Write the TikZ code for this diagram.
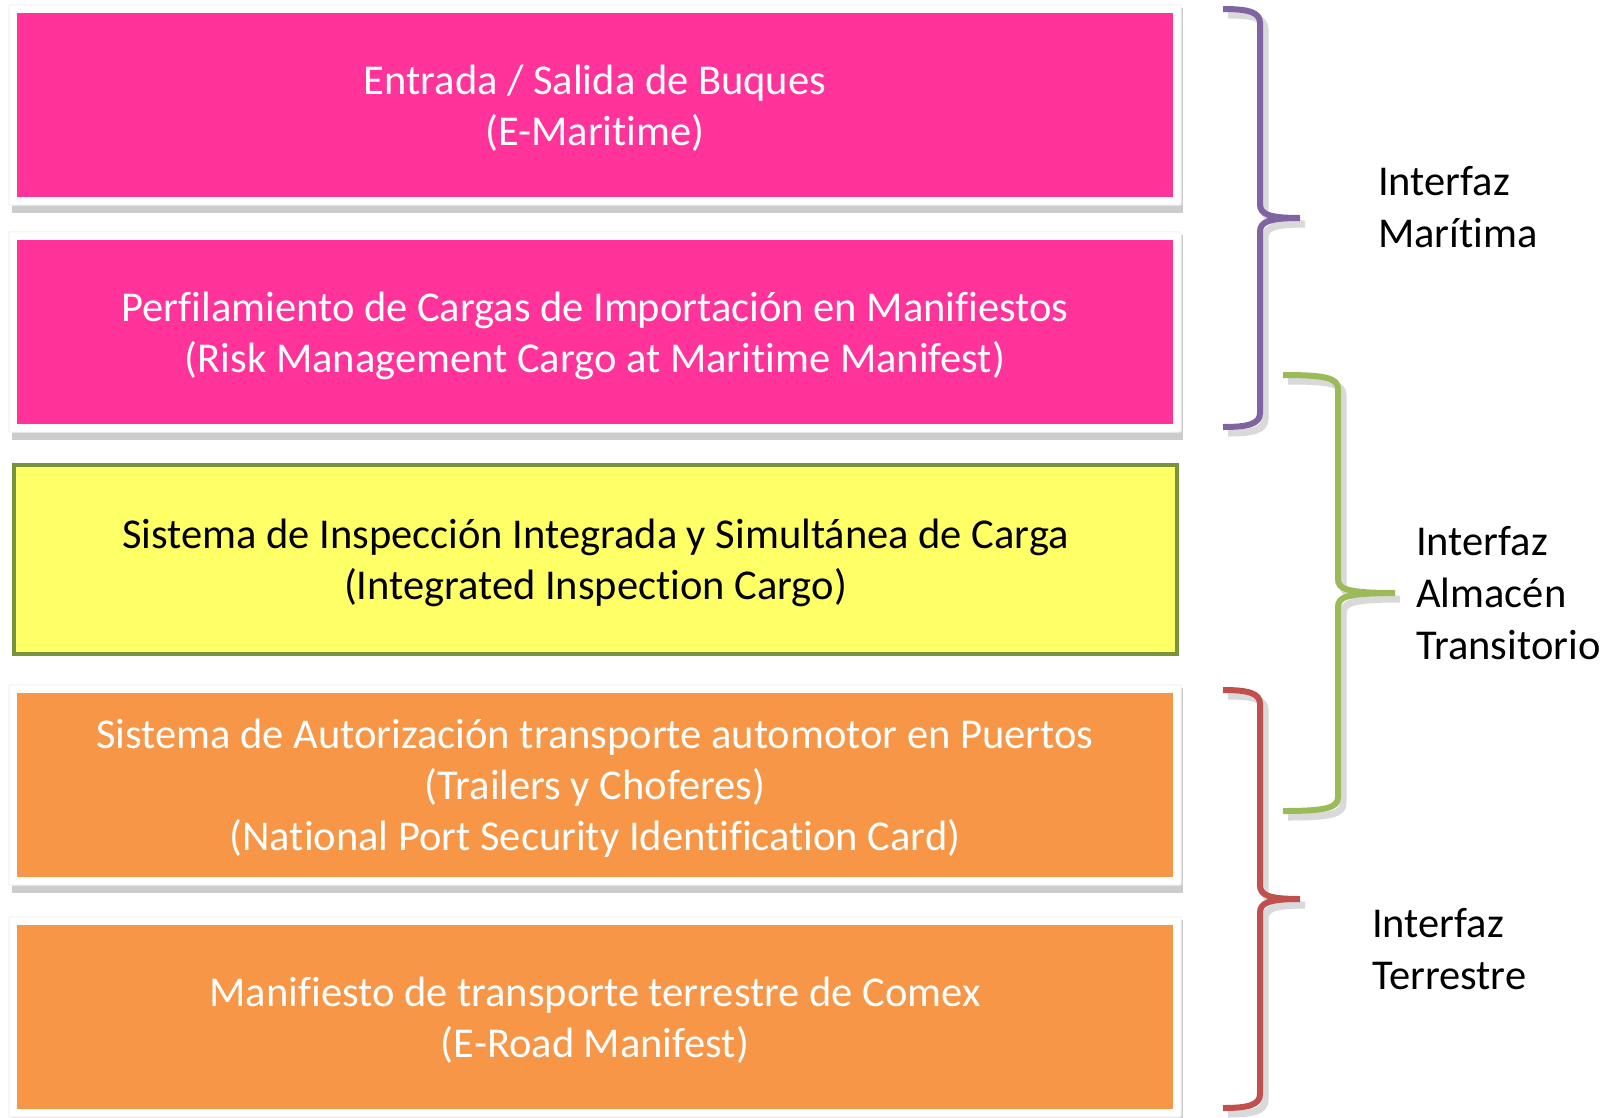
\documentclass[tikz,border=0pt]{standalone}
\usepackage{fontspec}
\setmainfont{Carlito}[Ligatures=NoCommon]
\usetikzlibrary{backgrounds}
\definecolor{pinkc}{HTML}{FF3399}
\definecolor{orangec}{HTML}{F79646}
\definecolor{yellowc}{HTML}{FFFF66}
\definecolor{greenborder}{HTML}{77933C}
\definecolor{purplec}{HTML}{8064A2}
\definecolor{greenc}{HTML}{9BBB59}
\definecolor{redc}{HTML}{C0504D}
\tikzset{
  boxtext/.style={font=\fontsize{42.5}{51}\selectfont, align=center, inner sep=0pt,
    minimum width=1156pt, minimum height=184pt, text depth=0pt},
  pinkbox/.style={boxtext, fill=pinkc, text=white},
  orangebox/.style={boxtext, fill=orangec, text=white},
  yellowbox/.style={boxtext, fill=yellowc, draw=greenborder, line width=4pt,
    minimum width=1163pt, minimum height=189pt, text=black},
  framebox/.style={fill=white, draw=gray!12, line width=1pt, rounded corners=2pt},
  shadowbox/.style={fill=gray!40},
  bracestyle/.style={line width=6pt},
  braceshadow/.style={line width=7pt, draw=gray!30},
  lbl/.style={font=\fontsize{42.5}{52}\selectfont, align=left, anchor=base west, inner sep=0pt}
}
\newcommand{\mybracepath}[6]{%
  (#1,#4) .. controls ({#2-12},#4) and (#2,{#4+3}) .. (#2,{#4+14})
  -- (#2,{#5-14}) .. controls (#2,{#5-4}) and ({#2+8},#5) .. (#3,#5)
  .. controls ({#2+8},#5) and (#2,{#5+4}) .. (#2,{#5+14})
  -- (#2,{#6-14}) .. controls (#2,{#6-3}) and ({#2-12},#6) .. (#1,#6)}
\newcommand{\drawmybrace}[7]{%
  \draw[braceshadow, xshift=5pt, yshift=-6pt] \mybracepath{#2}{#3}{#4}{#5}{#6}{#7};
  \draw[bracestyle, draw=#1] \mybracepath{#2}{#3}{#4}{#5}{#6}{#7};}
\begin{document}
\begin{tikzpicture}[x=1pt,y=-1pt]
\useasboundingbox (0,0) rectangle (1604,1117);

\node[pinkbox] (b1) at (595,105) {Entrada / Salida de Buques\\(E-Maritime)};
\node[pinkbox] (b2) at (595,332) {Perfilamiento de Cargas de Importación en Manifiestos\\(Risk Management Cargo at Maritime Manifest)};
\node[yellowbox] (b3) at (595.5,559.5) {Sistema de Inspección Integrada y Simultánea de Carga\\(Integrated Inspection Cargo)};
\node[orangebox] (b4) at (595,785) {Sistema de Autorización transporte automotor en Puertos\\(Trailers y Choferes)\\(National Port Security Identification Card)};
\node[orangebox] (b5) at (595,1017) {Manifiesto de transporte terrestre de Comex\\(E-Road Manifest)};

\begin{scope}[on background layer]
  \fill[white] (0,0) rectangle (1604,1117);
  \foreach \n in {b1,b2,b4,b5} {
    \fill[shadowbox] ([xshift=-5pt,yshift=5pt]\n.north west) rectangle ([xshift=10pt,yshift=-16pt]\n.south east);
    \filldraw[framebox] ([xshift=-8pt,yshift=8pt]\n.north west) rectangle ([xshift=8pt,yshift=-8pt]\n.south east);
  }
\end{scope}

\drawmybrace{purplec}{1223}{1260}{1300}{9}{218}{427}
\drawmybrace{greenc}{1283}{1338}{1395}{375}{593}{811}
\drawmybrace{redc}{1223}{1260}{1300}{690}{899}{1108}

\node[lbl] (l1) at (1378,247) {Interfaz\\Marítima};
\node[lbl] (l2) at (1416,659) {Interfaz\\Almacén\\Transitorio};
\node[lbl] (l3) at (1372,989) {Interfaz\\Terrestre};
\end{tikzpicture}
\end{document}
